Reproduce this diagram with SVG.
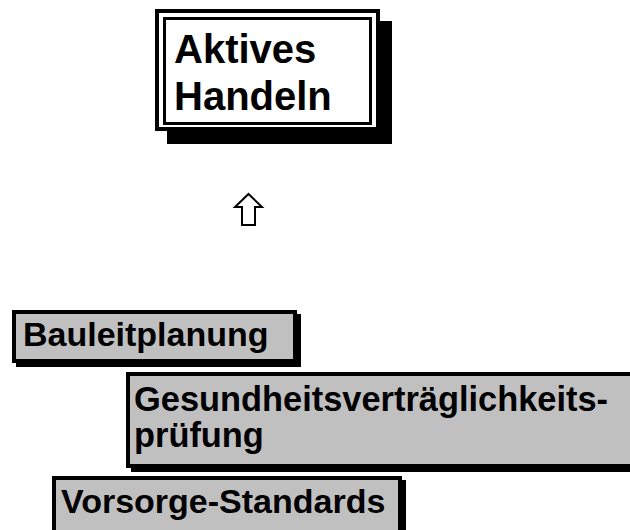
<svg xmlns="http://www.w3.org/2000/svg" width="630" height="530" viewBox="0 0 630 530">
<style>
.t{font-family:"Liberation Sans",Arial,sans-serif;font-weight:bold;fill:#000}
.big{font-size:40px}
.mid{font-size:34px}
.mid2{font-size:34.4px}
.sh{fill:#000}
.gbox{fill:#C0C0C0;stroke:#000;stroke-width:4}
</style>
<rect width="630" height="530" fill="#fff"/>
<g id="aktives-handeln">
<rect class="sh" x="167" y="21" width="225" height="123"/>
<rect x="157" y="11" width="221" height="118" fill="#fff" stroke="#000" stroke-width="4"/>
<rect x="164.5" y="18.5" width="206" height="105" fill="none" stroke="#000" stroke-width="3"/>
<text class="t big" x="174" y="63">Aktives</text>
<text class="t big" x="174" y="110">Handeln</text>
</g>
<g id="connectors">
<polygon points="248.5,194 262,207 255,207 255,225 242,225 242,207 235,207" fill="#fff" stroke="#000" stroke-width="2" stroke-linejoin="miter"/>
</g>
<g id="bauleitplanung">
<rect class="sh" x="16" y="314" width="285" height="53"/>
<rect class="gbox" x="14" y="312" width="281" height="49"/>
<text class="t mid" x="23" y="346">Bauleitplanung</text>
</g>
<g id="gesundheitsvertraeglichkeitspruefung">
<rect class="sh" x="131" y="376" width="520" height="96"/>
<rect class="gbox" x="128" y="374" width="520" height="92"/>
<text class="t mid2" x="134" y="411">Gesundheitsverträglichkeits-</text>
<text class="t mid2" x="134" y="447">prüfung</text>
</g>
<g id="vorsorge-standards">
<rect class="sh" x="56" y="480" width="350" height="60"/>
<rect class="gbox" x="54" y="478" width="346" height="56"/>
<text class="t mid" x="61" y="513">Vorsorge-Standards</text>
</g>
</svg>
